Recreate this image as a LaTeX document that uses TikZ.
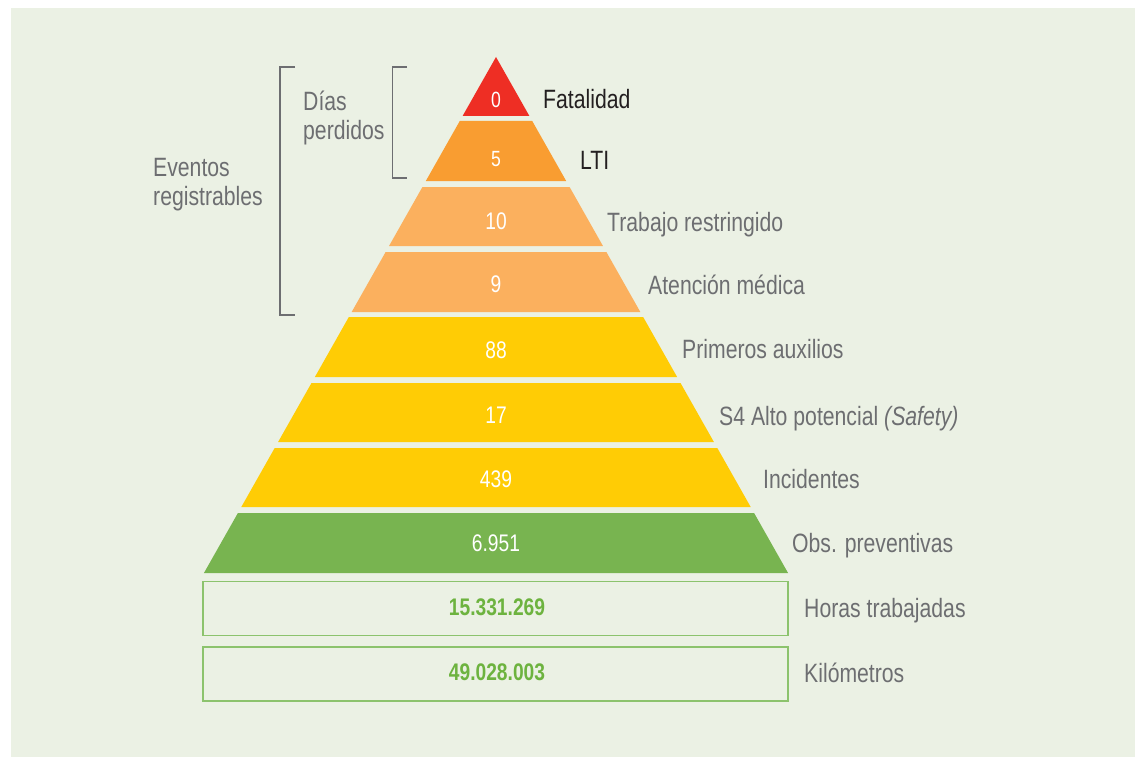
\documentclass[tikz,border=0pt]{standalone}
\usepackage{fontspec}
\setmainfont{Liberation Sans}[FakeStretch=0.8]
\definecolor{bgc}{HTML}{EBF1E4}
\definecolor{redc}{HTML}{EE2E24}
\definecolor{orc}{HTML}{F99D31}
\definecolor{lorc}{HTML}{FBB05E}
\definecolor{yelc}{HTML}{FFCC05}
\definecolor{grc}{HTML}{78B450}
\definecolor{boxc}{HTML}{8CC36D}
\definecolor{valc}{HTML}{6DB33F}
\definecolor{labc}{HTML}{6D6E71}
\definecolor{darkc}{HTML}{231F20}
\tikzset{
  lab/.style={anchor=base west, inner sep=0pt, text=labc, font=\fontsize{26.5}{30}\selectfont},
  darklab/.style={lab, text=darkc},
  num/.style={anchor=base, inner sep=0pt, text=white, font=\fontsize{24}{28}\selectfont},
  smallnum/.style={num, font=\fontsize{22}{26}\selectfont},
  val/.style={anchor=base, inner sep=0pt, text=valc, font=\bfseries\fontsize{24}{28}\selectfont},
  brk/.style={draw=labc, line width=1.5pt},
  boxst/.style={draw=boxc, line width=1.5pt, minimum width=585pt, minimum height=54pt, inner sep=0pt}
}
\begin{document}
\begin{tikzpicture}[x=1pt,y=-1pt]
\useasboundingbox (0,0) rectangle (1135,757);
\fill[bgc] (11,8) rectangle (1135,757);
% pyramid layers
\def\sl{0.566}
\fill[redc] (496,57) -- ({496+(116-57)*\sl},116) -- ({496-(116-57)*\sl},116) -- cycle;
\foreach \t/\b/\c in {121/181/orc, 187/246/lorc, 252/312/lorc, 317/377/yelc, 383/442/yelc, 448/507/yelc, 513/573/grc}{
  \fill[\c] ({496-(\t-57)*\sl},\t) -- ({496+(\t-57)*\sl},\t) -- ({496+(\b-57)*\sl},\b) -- ({496-(\b-57)*\sl},\b) -- cycle;
}
% numbers
\node[smallnum] (n1) at (496,108) {0};
\node[smallnum] (n2) at (496,167) {5};
\node[num] (n3) at (496,229) {10};
\node[num] (n4) at (496,292) {9};
\node[num] (n5) at (496,358) {88};
\node[num] (n6) at (496,423) {17};
\node[num] (n7) at (496,487) {439};
\node[num] (n8) at (496,551) {6.951};
% labels
\node[darklab] (l1) at (543,109) {Fatalidad};
\node[darklab] (l2) at (580,169) {LTI};
\node[lab] (l3) at (607,231) {Trabajo restringido};
\node[lab] (l4) at (648,294) {Atención médica};
\node[lab] (l5) at (682,358) {Primeros auxilios};
\node[lab] (l6) at (719,425) {S4 Alto potencial \textit{(Safety)}};
\node[lab] (l7) at (763,488) {Incidentes};
\node[lab] (l8) at (792,552) {Obs. preventivas};
% boxes
\node[boxst] (b1) at (495.5,608.5) {};
\node[boxst] (b2) at (495.5,674) {};
\node[val] (v1) at (497,615) {15.331.269};
\node[val] (v2) at (497,680) {49.028.003};
\node[lab] (l9) at (804,617) {Horas trabajadas};
\node[lab] (l10) at (804,682) {Kilómetros};
% brackets
\draw[brk] (295,67) -- (280,67) -- (280,315) -- (295,315);
\draw[brk] (407,67) -- (392.5,67) -- (392.5,178) -- (407,178);
\node[lab] (e1) at (153,176) {Eventos};
\node[lab] (e2) at (153,205) {registrables};
\node[lab] (d1) at (303,111) {Días};
\node[lab] (d2) at (303,140) {perdidos};
\end{tikzpicture}
\end{document}
